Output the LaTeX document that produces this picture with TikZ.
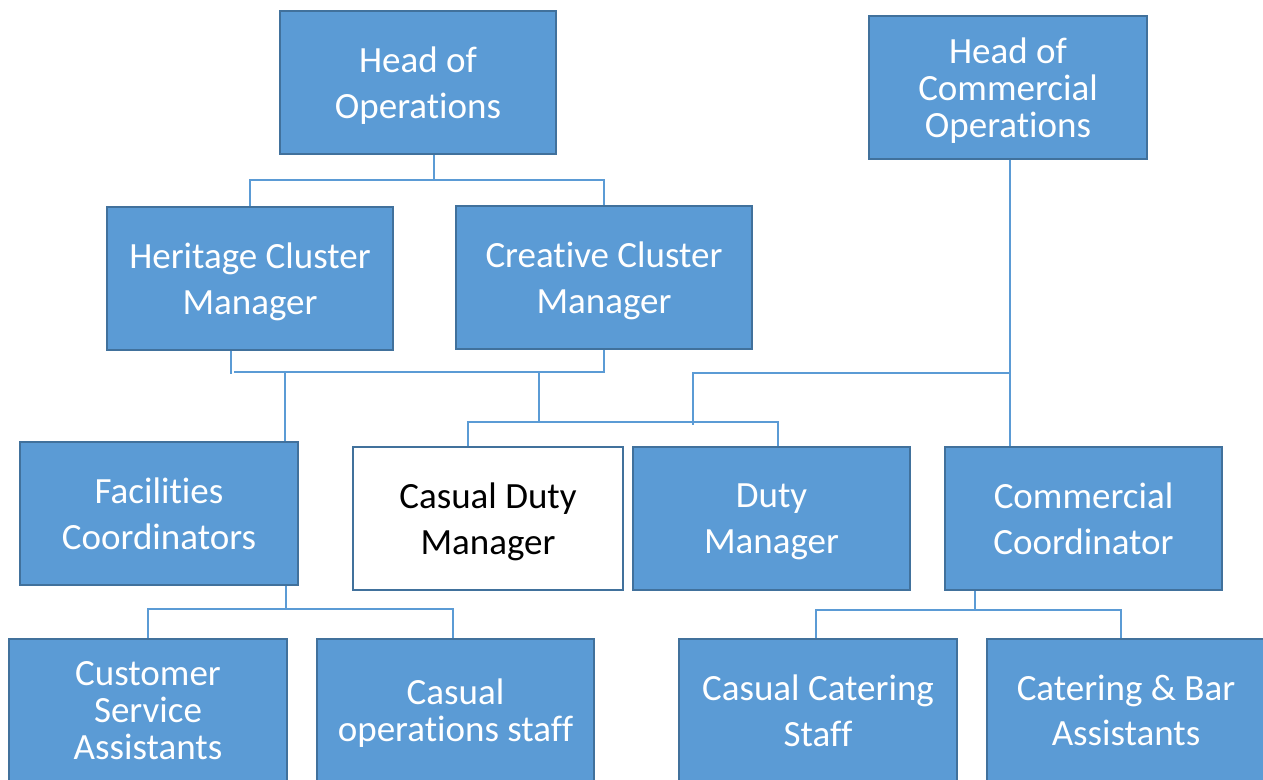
\documentclass[tikz,border=0pt]{standalone}
\usepackage{fontspec}
\setmainfont{Carlito}[Ligatures=CommonOff]
\usetikzlibrary{positioning,calc}
\definecolor{boxblue}{HTML}{5B9BD5}
\definecolor{boxedge}{HTML}{41719C}
\definecolor{linkblue}{HTML}{5B9BD5}
\tikzset{
block/.style = {draw=boxedge, line width=2pt, fill=boxblue, text=white, rectangle, minimum height=143pt, inner sep=0pt, align=center, text depth=-1.5pt, font=\fontsize{37}{45.5}\selectfont},
casual/.style = {block, fill=white, text=black},
tight/.style = {font=\fontsize{37}{37}\selectfont},
tmp/.style  = {coordinate},
link/.style = {draw=linkblue, line width=1.3pt}
}
\begin{document}
\begin{tikzpicture}[x=1pt, y=-1pt]
    \useasboundingbox (0,0) rectangle (1263,779);
    \clip (0,0) rectangle (1263,779);
    % heads
    \node [block, minimum width=276pt] (hops) at (418,82.5) {Head of\\Operations};
    \node [block, tight, minimum width=278pt] (hcom) at (1008,87.5) {Head of\\Commercial\\Operations};
    % cluster managers
    \node [block, minimum width=286pt] (her) at (250,278.5) {Heritage Cluster\\Manager};
    \node [block, minimum width=296pt] (cre) at (604,277.5) {Creative Cluster\\Manager};
    % coordinators and duty managers
    \node [block, minimum width=278pt] (fac) at (159,513.5) {Facilities\\Coordinators};
    \node [casual, minimum width=270pt] (cdm) at (488,518.5) {Casual Duty\\Manager};
    \node [block, minimum width=277pt] (dm) at (771.5,518.5) {Duty\\Manager};
    \node [block, minimum width=277pt] (cc) at (1083.5,518.5) {Commercial\\Coordinator};
    % staff
    \node [block, tight, minimum width=278pt] (csa) at (148,710.5) {Customer\\Service\\Assistants};
    \node [block, tight, minimum width=277pt] (cos) at (455.5,710.5) {Casual\\operations staff};
    \node [block, minimum width=278pt] (ccs) at (818,710.5) {Casual Catering\\Staff};
    \node [block, minimum width=278pt] (cba) at (1126,710.5) {Catering \& Bar\\Assistants};

    % head of operations
    \node [tmp] (t1) at (434,180) {};
    \draw [link] (t1 |- hops.south) -- (t1);
    \draw [link] (her.north) |- (t1) -| (cre.north);
    % cluster managers down
    \node [tmp] (h1) at (231,374) {};
    \draw [link] (h1 |- her.south) -- (h1);
    \node [tmp] (m1) at (234,372) {};
    \draw [link] (m1) -| (cre.south);
    \node [tmp] (f1) at (285,372) {};
    \draw [link] (f1) -- (f1 |- fac.north);
    \node [tmp] (m2) at (539,372) {};
    \node [tmp] (m3) at (539,422) {};
    \draw [link] (m2) -- (m3);
    \node [tmp] (d1) at (468,422) {};
    \node [tmp] (d2) at (778,422) {};
    \draw [link] (d1 |- cdm.north) -- (d1) -- (d2) -- (d2 |- dm.north);
    % head of commercial operations
    \node [tmp] (c1) at (1010,373) {};
    \node [tmp] (c2) at (693,373) {};
    \node [tmp] (c3) at (693,425) {};
    \draw [link] (c1 |- hcom.south) -- (c1 |- cc.north);
    \draw [link] (c1) -- (c2) -- (c3);
    % staff
    \node [tmp] (s1) at (286,609) {};
    \node [tmp] (s2) at (148,609) {};
    \node [tmp] (s3) at (453,609) {};
    \draw [link] (s1 |- fac.south) -- (s1);
    \draw [link] (s2 |- csa.north) -- (s2) -- (s3) -- (s3 |- cos.north);
    \node [tmp] (s4) at (975,610) {};
    \node [tmp] (s5) at (816,610) {};
    \node [tmp] (s6) at (1121,610) {};
    \draw [link] (s4 |- cc.south) -- (s4);
    \draw [link] (s5 |- ccs.north) -- (s5) -- (s6) -- (s6 |- cba.north);
\end{tikzpicture}
\end{document}
